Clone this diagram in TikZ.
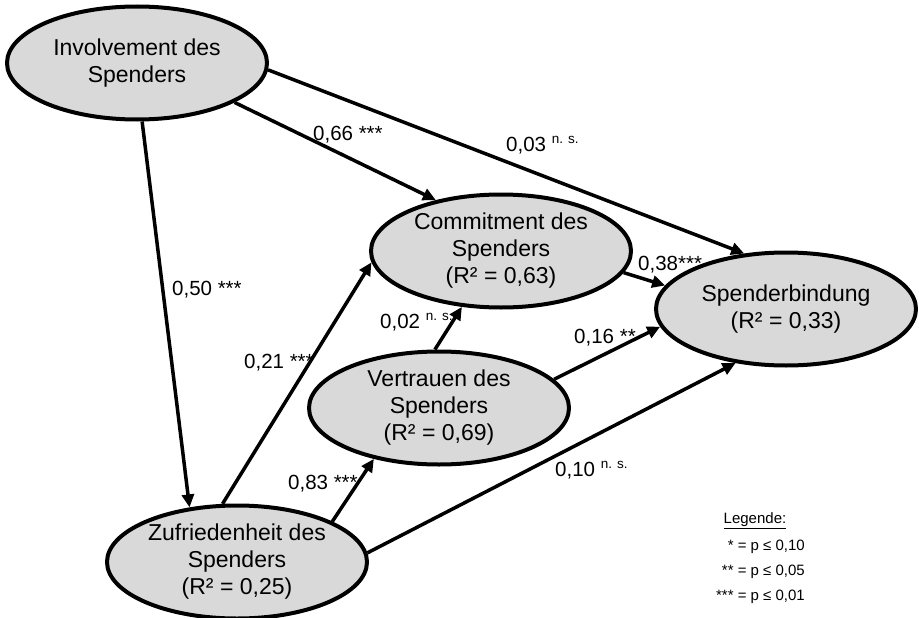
\documentclass[tikz,border=0pt]{standalone}
\usepackage{fontspec}
\setmainfont{Liberation Sans}
\usetikzlibrary{arrows.meta,shapes.geometric}
\tikzset{
  construct/.style={ellipse, draw, line width=4pt, fill=black!15, minimum width=260pt, minimum height=113pt,
    inner sep=0pt, align=center, font=\fontsize{23}{27}\selectfont},
  eff/.style={line width=3.5pt, -{Triangle[length=13pt, width=12pt]}},
  coef/.style={anchor=west, inner sep=0pt, font=\fontsize{20.5}{22}\selectfont},
  leg/.style={anchor=east, inner sep=0pt, font=\fontsize{15}{16}\selectfont},
}
\newcommand{\ns}{\raisebox{7.5pt}{\fontsize{13.5}{14}\selectfont n. s.}}

\begin{document}
\begin{tikzpicture}[x=1pt, y=-1pt]
\useasboundingbox (0,0) rectangle (919,618);

\node[construct] (inv) at (137,63) {Involvement des\\Spenders};
\node[construct] (com) at (501,251) {Commitment des\\Spenders\\(R² = 0,63)};
\node[construct] (ver) at (439,408) {Vertrauen des\\Spenders\\(R² = 0,69)};
\node[construct] (zuf) at (237,562) {Zufriedenheit des\\Spenders\\(R² = 0,25)};
\node[construct] (bind) at (786,309) {Spenderbindung\\(R² = 0,33)};

\draw[eff] (inv.-85) -- (zuf.131);
\draw[eff] (inv.-22) -- (com.142);
\draw[eff] (inv.-3) -- (bind.127);
\draw[eff] (zuf.104) -- (com.185);
\draw[eff] (zuf.23) -- (ver.218);
\draw[eff] (zuf.4) -- (bind.227);
\draw[eff] (ver.94) -- (com.235);
\draw[eff] (ver.14) -- (bind.188);
\draw[eff] (com.-10) -- (bind.169);

\node[coef] (c66) at (313,135) {0,66 ***};
\node[coef] (c03) at (506,145) {0,03 \ns};
\node[coef] (c50) at (172,290) {0,50 ***};
\node[coef] (c21) at (244,363) {0,21 ***};
\node[coef] (c83) at (288,484) {0,83 ***};
\node[coef] (c02) at (380,322) {0,02 \ns};
\node[coef] (c16) at (574,338) {0,16 **};
\node[coef] (c10) at (555,470) {0,10 \ns};
\node[coef] (c38) at (638,265) {0,38***};

% Legende
\node[font=\fontsize{15}{16}\selectfont, inner sep=0pt] (leg0) at (755,521) {\underline{Legende:}};
\node[leg] (leg1) at (805,547) {* = p ≤ 0,10};
\node[leg] (leg2) at (805,572) {** = p ≤ 0,05};
\node[leg] (leg3) at (805,597) {*** = p ≤ 0,01};

\end{tikzpicture}
\end{document}
